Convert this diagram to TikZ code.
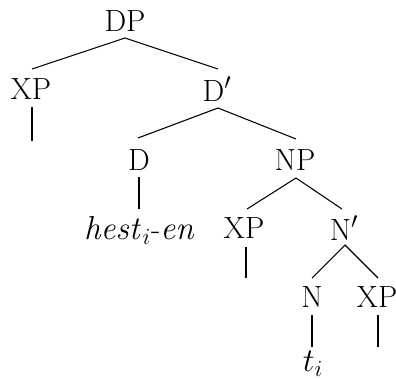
\documentclass[tikz,border=0pt]{standalone}
\begin{document}
\begin{tikzpicture}[x=0.75pt,y=-0.75pt,
  lab/.style={inner sep=0pt,font=\fontsize{23}{27}\selectfont},
  edge/.style={line width=0.8pt},
  stem/.style={line width=1.9pt},
  stemthin/.style={line width=1pt}]
\useasboundingbox (0,0) rectangle (396,381);
% nodes
\node[lab] (DP) at (125,21) {DP};
\node[lab] (XP1) at (31,89) {XP};
\node[lab] (Dbar) at (217,89) {D$'$};
\node[lab] (D) at (139,160) {D};
\node[lab] (NP) at (295,160) {NP};
\node[lab] (hest) at (140,230) {$\mathit{hest}_i$-$\mathit{en}$};
\node[lab] (XP2) at (244,228) {XP};
\node[lab] (Nbar) at (344,228) {N$'$};
\node[lab] (N) at (312,297) {N};
\node[lab] (XP3) at (377,297) {XP};
\node[lab] (t) at (313,364) {$t_i$};
% anchor coordinates
\coordinate (dpb) at (125,38);
\coordinate (xp1t) at (32,69);
\coordinate (dbt) at (218,69);
\coordinate (dbb) at (218,108);
\coordinate (dt) at (138,138);
\coordinate (npt) at (296,139);
\coordinate (npb) at (296,178);
\coordinate (xp2t) at (247,209);
\coordinate (nbt) at (342,209);
\coordinate (nbb) at (345,245);
\coordinate (nt) at (312,278);
\coordinate (xp3t) at (378,278);
\coordinate (s1a) at (32,107);
\coordinate (s1b) at (32,141);
\coordinate (s2a) at (139,177);
\coordinate (s2b) at (139,209);
\coordinate (s3a) at (246,247);
\coordinate (s3b) at (246,278);
\coordinate (s4a) at (312,315);
\coordinate (s4b) at (312,347);
\coordinate (s5a) at (378,315);
\coordinate (s5b) at (378,347);
% edges
\draw[edge] (xp1t) -- (dpb) -- (dbt);
\draw[edge] (dt) -- (dbb) -- (npt);
\draw[edge] (xp2t) -- (npb) -- (nbt);
\draw[edge] (nt) -- (nbb) -- (xp3t);
\draw[stem] (s1a) -- (s1b);
\draw[stem] (s2a) -- (s2b);
\draw[stem] (s3a) -- (s3b);
\draw[stemthin] (s4a) -- (s4b);
\draw[stemthin] (s5a) -- (s5b);
\end{tikzpicture}
\end{document}
